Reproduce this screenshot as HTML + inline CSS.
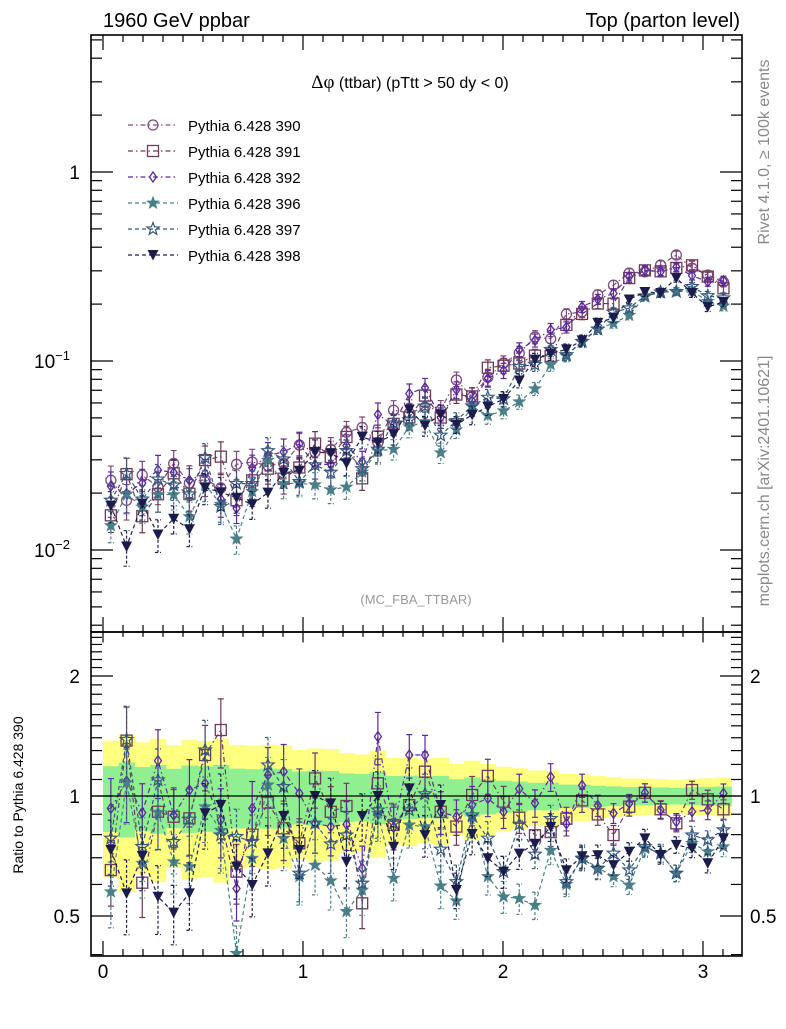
<!DOCTYPE html>
<html><head><meta charset="utf-8"><style>
html,body{margin:0;padding:0;background:#fff}
svg text{font-family:"Liberation Sans",sans-serif}
</style></head><body>
<svg id="chart" width="786" height="1024" viewBox="0 0 786 1024" xmlns="http://www.w3.org/2000/svg">
<defs>
<clipPath id="cm"><rect x="91" y="35" width="651" height="597"/></clipPath>
<clipPath id="cr"><rect x="91" y="634" width="651" height="322"/></clipPath>
</defs>
<rect width="786" height="1024" fill="#fff"/>
<g id="bands" clip-path="url(#cr)"></g>
<g id="series"></g>
<g id="axes"></g>
<text x="103" y="27" font-size="20">1960 GeV ppbar</text>
<text x="740" y="27" font-size="20" text-anchor="end">Top (parton level)</text>
<text x="410" y="88" font-size="16" text-anchor="middle"><tspan font-family="Liberation Serif" font-size="19">Δφ</tspan> (ttbar) (pTtt &gt; 50 dy &lt; 0)</text>
<text x="416" y="604" font-size="13" fill="#999" text-anchor="middle">(MC_FBA_TTBAR)</text>
<text transform="translate(769,152) rotate(-90)" font-size="16" fill="#888" text-anchor="middle">Rivet 4.1.0, ≥ 100k events</text>
<text transform="translate(769,481) rotate(-90)" font-size="16" fill="#888" text-anchor="middle">mcplots.cern.ch [arXiv:2401.10621]</text>
<text transform="translate(23,795) rotate(-90)" font-size="14" text-anchor="middle">Ratio to Pythia 6.428 390</text>
<g id="legend"></g>
</svg>
<script>
const refValues=[0.0234,0.0183,0.0249,0.0216,0.0287,0.0226,0.0236,0.0213,0.0284,0.0292,0.028,0.0287,0.0359,0.033,0.034,0.042,0.0445,0.037,0.0549,0.053,0.057,0.055,0.0793,0.0646,0.082,0.0975,0.11,0.134,0.131,0.177,0.182,0.224,0.252,0.292,0.296,0.322,0.364,0.31,0.285,0.262];
const relErr=[0.188,0.213,0.182,0.196,0.170,0.192,0.187,0.197,0.171,0.168,0.172,0.170,0.152,0.158,0.156,0.140,0.136,0.150,0.123,0.125,0.120,0.123,0.102,0.113,0.101,0.092,0.087,0.079,0.080,0.068,0.067,0.061,0.057,0.053,0.053,0.051,0.048,0.052,0.054,0.056];
const ratio391=[0.652,1.377,0.606,0.913,0.887,0.879,1.267,1.464,0.646,0.80,0.962,0.830,0.761,1.107,0.913,0.944,0.538,1.076,0.846,0.949,1.151,0.913,0.838,1.006,1.123,0.968,0.882,0.797,0.812,0.877,0.975,0.899,0.798,0.940,1.019,0.926,0.854,1.035,0.981,0.926];
const ratio392=[0.931,1.09,0.908,1.226,0.896,1.035,1.076,0.871,0.586,0.931,1.129,1.151,1.015,0.854,0.838,0.849,0.659,1.409,0.835,1.267,1.267,0.913,0.887,0.949,0.987,0.913,1.043,0.960,1.116,0.852,1.063,0.947,0.905,0.958,1.019,0.922,0.862,0.913,0.922,1.015];
const ratio396=[0.575,1.08,0.678,0.91,0.684,0.665,0.940,0.82,0.403,0.698,1.066,0.783,0.628,0.671,0.613,0.513,0.581,0.905,0.622,0.846,0.838,0.595,0.546,0.887,0.628,0.559,0.553,0.532,0.731,0.60,0.70,0.66,0.628,0.598,0.74,0.72,0.64,0.761,0.725,0.746];
const ratio397=[0.783,1.385,0.746,1.097,0.768,0.874,1.304,0.798,0.791,0.768,1.196,1.055,0.640,0.854,0.758,0.798,0.604,0.922,0.854,0.922,1.012,0.735,0.609,0.896,0.783,0.646,0.849,0.714,0.877,0.609,0.696,0.657,0.718,0.652,0.746,0.718,0.64,0.798,0.776,0.822];
const ratio398=[0.732,0.570,0.707,0.559,0.510,0.570,0.905,0.949,0.665,0.598,0.718,0.891,0.732,1.0,0.958,0.684,0.891,1.0,0.746,1.045,0.798,0.949,0.581,0.803,0.698,0.646,0.717,0.759,0.836,0.651,0.706,0.710,0.671,0.725,0.783,0.711,0.754,0.739,0.678,0.783];
const seriesNames=["Pythia 6.428 390","Pythia 6.428 391","Pythia 6.428 392","Pythia 6.428 396","Pythia 6.428 397","Pythia 6.428 398"];
const xTicks=[0,1,2,3];

const NS="http://www.w3.org/2000/svg";
const nBins=refValues.length, binW=Math.PI/nBins;
const X=v=>103+200*v;
const YM=v=>172-189*Math.log10(v);
const YR=r=>796-120*Math.log2(r);
function mk(tag,attrs,parent){const e=document.createElementNS(NS,tag);for(const k in attrs)e.setAttribute(k,attrs[k]);parent.appendChild(e);return e;}
const series=document.getElementById('series'),axes=document.getElementById('axes'),bands=document.getElementById('bands'),legend=document.getElementById('legend');

const styles=[
 {id:'390',ratio:null,color:'#7d4a80',dash:'5,3,1.5,3',marker:'circle'},
 {id:'391',ratio:ratio391,color:'#6e3a58',dash:'5,3,1.5,3',marker:'square'},
 {id:'392',ratio:ratio392,color:'#5a2a9e',dash:'5,3,1.5,3',marker:'diamond'},
 {id:'396',ratio:ratio396,color:'#4a7f88',dash:'4,3',marker:'starfill'},
 {id:'397',ratio:ratio397,color:'#36587c',dash:'4,3',marker:'staropen'},
 {id:'398',ratio:ratio398,color:'#1c1c4c',dash:'4,3',marker:'tri'}];

function starPts(cx,cy,R){let p=[];for(let k=0;k<10;k++){const r=k%2?R*0.42:R;const a=-Math.PI/2+k*Math.PI/5;p.push((cx+r*Math.cos(a)).toFixed(1)+','+(cy+r*Math.sin(a)).toFixed(1));}return p.join(' ');}
function marker(type,cx,cy,c,g){
 let e;
 if(type==='circle')e=mk('circle',{cx,cy,r:5,fill:'none',stroke:c,'stroke-width':1.3},g);
 else if(type==='square')e=mk('rect',{x:cx-5.5,y:cy-5.5,width:11,height:11,fill:'none',stroke:c,'stroke-width':1.3},g);
 else if(type==='diamond')e=mk('polygon',{points:`${cx},${cy-5} ${cx+3.5},${cy} ${cx},${cy+5} ${cx-3.5},${cy}`,fill:'none',stroke:c,'stroke-width':1.3},g);
 else if(type==='starfill')e=mk('polygon',{points:starPts(cx,cy,6.5),fill:c,stroke:c,'stroke-width':0.6},g);
 else if(type==='staropen')e=mk('polygon',{points:starPts(cx,cy,6.5),fill:'none',stroke:c,'stroke-width':1.2},g);
 else e=mk('polygon',{points:`${cx-5.5},${cy-5} ${cx+5.5},${cy-5} ${cx},${cy+5.5}`,fill:c},g);
 
 
}

for(let i=0;i<nBins;i++){
 const x0=X(i*binW),x1=X((i+1)*binW)+0.5;
 const y2=mk('rect',{x:x0,y:YR(1+2*relErr[i]),width:x1-x0,height:YR(Math.max(1-2*relErr[i],0.3))-YR(1+2*relErr[i]),fill:'#ffff80'},bands);
 
 
}
for(let i=0;i<nBins;i++){
 const x0=X(i*binW),x1=X((i+1)*binW)+0.5;
 const g1=mk('rect',{x:x0,y:YR(1+relErr[i]),width:x1-x0,height:YR(1-relErr[i])-YR(1+relErr[i]),fill:'#90f090'},bands);
 
 
}

function drawSeries(st,vals,Y,g){
 const pts=vals.map((v,i)=>[X((i+0.5)*binW),Y(v)]);
 const pl=mk('polyline',{points:pts.map(p=>p[0].toFixed(1)+','+p[1].toFixed(1)).join(' '),fill:'none',stroke:st.color,'stroke-width':1.2,'stroke-dasharray':st.dash},g);
 
 
 vals.forEach((v,i)=>{
  const cx=pts[i][0],e=relErr[i]*v;
  const yt=Y(v+e),yb=Y(Math.max(v-e,v*0.3));
  const eb=mk('path',{d:`M${cx},${yt}V${yb}M${cx-3},${yt}H${cx+3}M${cx-3},${yb}H${cx+3}`,stroke:st.color,'stroke-width':1.2,fill:'none','stroke-dasharray':st.dash==='4,3'?'3,2':'none'},g);
  
  
  marker(st.marker,cx,pts[i][1],st.color,g);
 });
}
const gm=mk('g',{'clip-path':'url(#cm)'},series);


const gr=mk('g',{'clip-path':'url(#cr)'},series);


styles.forEach(st=>{
 const vals=st.ratio?refValues.map((v,i)=>v*st.ratio[i]):refValues;
 const g=mk('g',{},gm);
 
 
 drawSeries(st,vals,YM,g);
 if(st.ratio){
  const g2=mk('g',{},gr);
  
  
  drawSeries(st,st.ratio,YR,g2);
 }
});
const one=mk('line',{x1:91,x2:742,y1:YR(1),y2:YR(1),stroke:'#000','stroke-width':1.3},axes);



[[35,632],[632,956]].forEach(([t,b])=>{
 const r=mk('rect',{x:91,y:t,width:651,height:b-t,fill:'none',stroke:'#000','stroke-width':1.6},axes);
 
 
});
function tick(x1,y1,x2,y2){const l=mk('line',{x1,y1,x2,y2,stroke:'#000','stroke-width':1.2},axes);}
function label(txt,x,y,anchor,size){const t=mk('text',{x,y,'font-size':size||19,'text-anchor':anchor},axes);t.textContent=txt;return t;}
for(let k=0;k<=31;k++){
 const v=k/10,x=X(v),maj=k%10===0,L=maj?15:7;
 tick(x,35,x,35+L);tick(x,632,x,632-L);tick(x,632,x,632+L*0.7);tick(x,956,x,956-L);
}
xTicks.forEach(v=>label(String(v),X(v),978,'middle',19));
for(let d=-3;d<=0;d++)for(let m=1;m<=9;m++){
 const v=m*Math.pow(10,d);if(v<0.0037||v>5.3)continue;const y=YM(v),L=m===1?22:11;
 tick(91,y,91+L,y);tick(742,y,742-L,y);
}
label('1',80,179,'end');
[[-1,361],[-2,550]].forEach(([e,y])=>{const t=label('10',70,y+7,'end');const s=mk('tspan',{dy:-8,'font-size':13},t);s.textContent='−'+(-e);});
for(let k=4;k<=25;k++){
 const r=k/10,y=YR(r),maj=(k===5||k===10||k===20),L=maj?22:11;
 tick(91,y,91+L,y);tick(742,y,742-L,y);
}
[['2',2],['1',1],['0.5',0.5]].forEach(([t,r])=>{label(t,80,YR(r)+7,'end');label(t,750,YR(r)+7,'start');});

styles.forEach((st,i)=>{
 const y=125+26*i;
 const g=mk('g',{},legend);
 
 
 mk('line',{x1:128,x2:178,y1:y,y2:y,stroke:st.color,'stroke-width':1.2,'stroke-dasharray':st.dash},g);
 marker(st.marker,153,y,st.color,g);
 const t=mk('text',{x:188,y:y+6,'font-size':15},g);t.textContent=seriesNames[i];
});
</script>
</body></html>
